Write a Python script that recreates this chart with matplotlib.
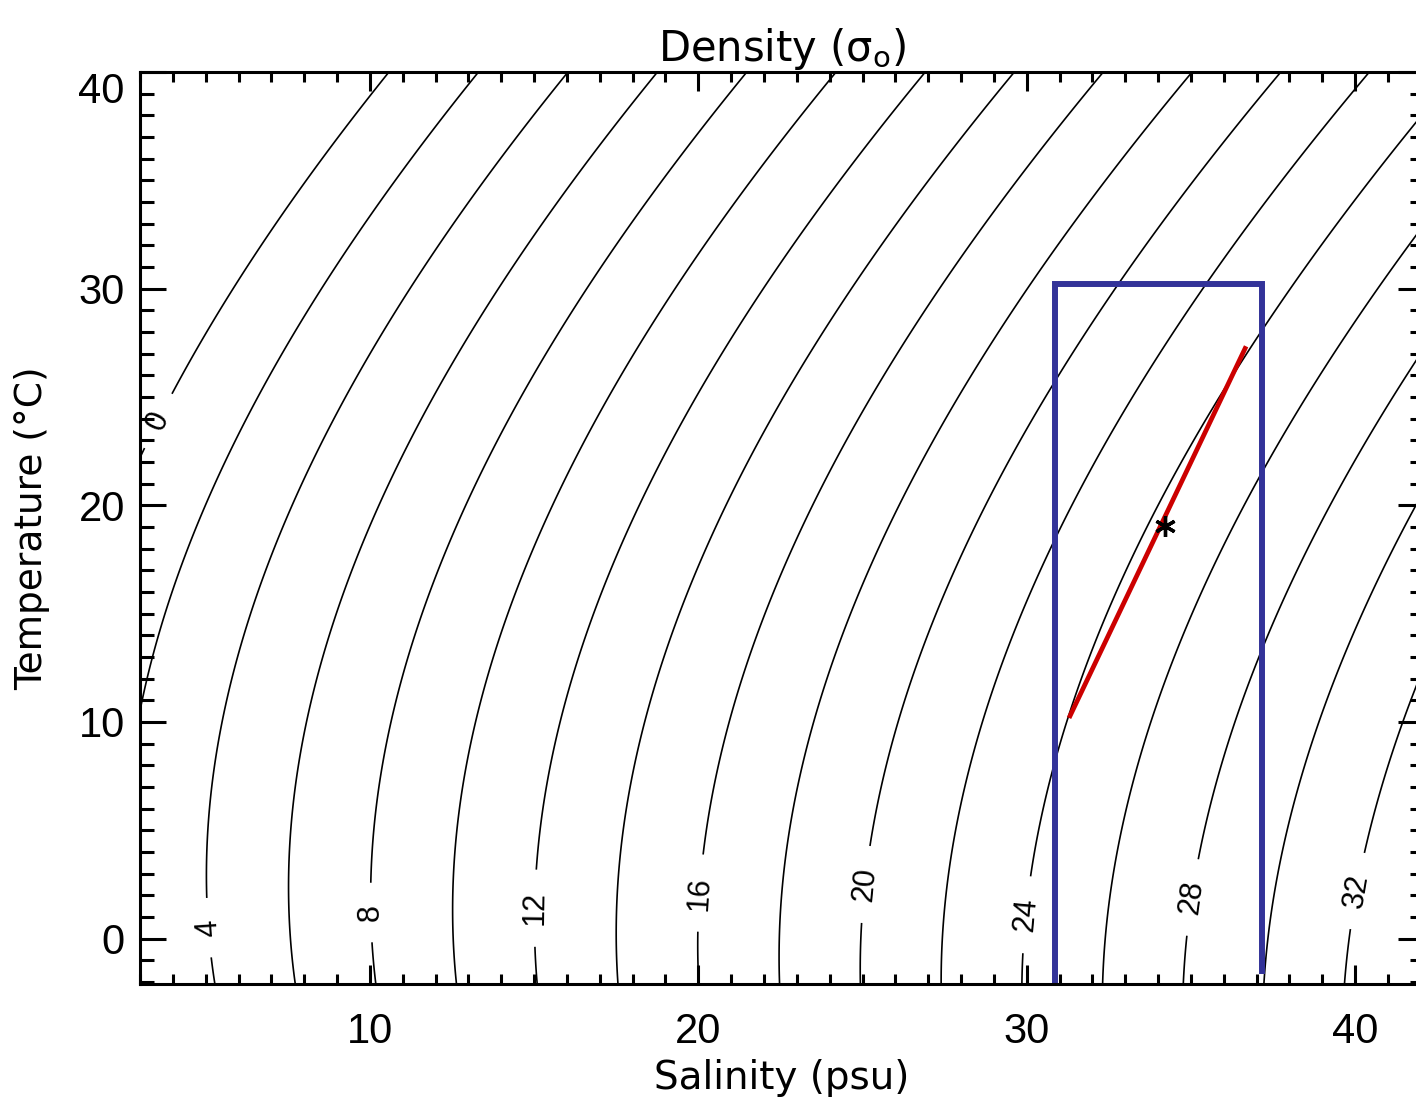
import numpy as np
import matplotlib.pyplot as plt

plt.rcParams['font.family'] = ['Liberation Sans', 'DejaVu Sans']

# sigma-0 contour levels and which ones carry a label
levels = np.arange(0, 36, 2)
label_levels = [0, 4, 8, 12, 16, 20, 24, 28, 32]
label_temps = [23.9, 0.5, 1.2, 1.4, 2.1, 2.5, 1.1, 1.9, 2.2]

# mixing box (salinity, temperature)
box_s = [30.86, 30.86, 37.17, 37.17]
box_t = [-2.6, 30.2, 30.2, -1.5]

# mixing line end members and the mixture point
mix_s = [31.32, 36.65]
mix_t = [10.28, 27.24]
point_s = [34.21]
point_t = [19.03]


def sigma0(s, t):
    # UNESCO 1981 equation of state at the surface
    rho_w = (999.842594 + 6.793952e-2 * t - 9.095290e-3 * t**2 + 1.001685e-4 * t**3
             - 1.120083e-6 * t**4 + 6.536332e-9 * t**5)
    a = 0.824493 - 4.0899e-3 * t + 7.6438e-5 * t**2 - 8.2467e-7 * t**3 + 5.3875e-9 * t**4
    b = -5.72466e-3 + 1.0227e-4 * t - 1.6546e-6 * t**2
    c = 4.8314e-4
    return rho_w + a * s + b * s**1.5 + c * s**2 - 1000.0


S, T = np.meshgrid(np.linspace(0, 45, 400), np.linspace(-3, 41, 400))
dens = sigma0(S, T)

fig = plt.figure(figsize=(14.16, 10.98), dpi=100)
ax = fig.add_axes([0.0989, 0.1038, 0.9068, 0.8306])

plain = [lv for lv in levels if lv not in label_levels]
ax.contour(S, T, dens, levels=plain, colors='black', linewidths=1.2)
cs = ax.contour(S, T, dens, levels=label_levels, colors='black', linewidths=1.2)

# put each label on its contour at the chosen temperature
s_line = np.linspace(0, 45, 4000)
spots = []
for lev, t in zip(label_levels, label_temps):
    spots.append((np.interp(lev, sigma0(s_line, t), s_line), t))
labels = ax.clabel(cs, manual=spots, inline=True, inline_spacing=20, fmt='%d', fontsize=22)
for lab in labels:
    if lab.get_rotation() > 180:
        lab.set_rotation(lab.get_rotation() - 180)

ax.plot(box_s, box_t, color='#333399', lw=4.3, solid_joinstyle='miter')
ax.plot(mix_s, mix_t, color='#cc0000', lw=3.4)
ax.plot(point_s, point_t, ls='none', marker=(6, 2, 0), ms=15, mew=2.4, color='black')

ax.set_xlim(3, 42.1)
ax.set_ylim(-2.1, 40)
ax.set_xticks([10, 20, 30, 40])
ax.set_xticks(np.arange(3, 43, 1), minor=True)
ax.set_yticks([0, 10, 20, 30, 40])
ax.set_yticks(np.arange(-2, 41, 1), minor=True)

for side in ax.spines.values():
    side.set_linewidth(2.2)
ax.tick_params(which='both', direction='in', top=True, right=True, width=2.2)
ax.tick_params(axis='x', which='major', length=14, pad=20, labelsize=30)
ax.tick_params(axis='x', which='minor', length=7.5)
ax.tick_params(axis='y', which='major', length=19, pad=11, labelsize=30)
ax.tick_params(axis='y', which='minor', length=10)
ax.get_yticklabels()[-1].set_verticalalignment('top')

ax.set_title('Density (σ$_\\mathrm{o}$)', fontsize=30, pad=6, family='DejaVu Sans')
ax.set_xlabel('Salinity (psu)', fontsize=28, labelpad=5, family='DejaVu Sans')
ax.set_ylabel('Temperature (°C)', fontsize=27, labelpad=20, family='DejaVu Sans')

plt.savefig('out.png', dpi=100)
